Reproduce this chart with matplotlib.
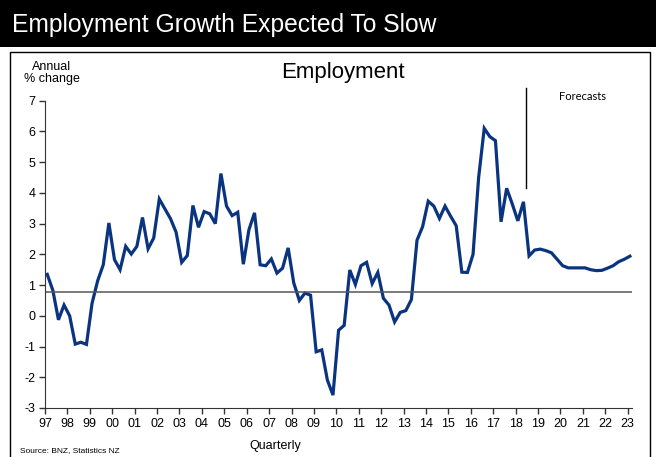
import matplotlib.pyplot as plt
import numpy as np
from matplotlib.patches import Rectangle


# quarterly annual % change, 1997 Q1 to 2023 Q1 (forecasts from 2018 Q3)
start_year = 1997.1
employment = [
    1.35, 0.83, -0.13, 0.35, 0.0, -0.92, -0.86, -0.93, 0.41, 1.14,
    1.66, 3.02, 1.83, 1.5, 2.26, 2.01, 2.26, 3.2, 2.18, 2.53,
    3.8, 3.48, 3.16, 2.72, 1.74, 1.96, 3.59, 2.88, 3.39, 3.32,
    3.0, 4.63, 3.57, 3.26, 3.37, 1.68, 2.8, 3.35, 1.66, 1.63,
    1.85, 1.39, 1.55, 2.21, 1.07, 0.5, 0.74, 0.67, -1.17, -1.11,
    -2.09, -2.58, -0.47, -0.31, 1.49, 1.02, 1.63, 1.74, 1.05, 1.41,
    0.57, 0.35, -0.2, 0.11, 0.17, 0.53, 2.46, 2.9, 3.73, 3.57,
    3.17, 3.57, 3.24, 2.93, 1.42, 1.41, 2.0, 4.5, 6.1, 5.83,
    5.7, 3.06, 4.15, 3.64, 3.09, 3.71, 1.95, 2.14, 2.17, 2.12,
    2.05, 1.84, 1.63, 1.56, 1.56, 1.56, 1.56, 1.5, 1.47, 1.48,
    1.55, 1.63, 1.76, 1.84, 1.94,
]
average_line = 0.78
forecast_start = 2018.47
forecast_line_bottom = 4.15
tick_years = list(range(1997, 2024))
tick_labels = [str(y)[2:] for y in tick_years]

plt.rcParams['font.family'] = ['Liberation Sans', 'DejaVu Sans']
plt.rcParams['axes.unicode_minus'] = False

x = start_year + 0.25 * np.arange(len(employment))

fig = plt.figure(figsize=(6.56, 4.57), dpi=100)

# black title band and panel frame
fig.patches.append(Rectangle((0, 1 - 47 / 457), 1, 47 / 457, transform=fig.transFigure,
                             facecolor='black', edgecolor='none', zorder=0))
fig.patches.append(Rectangle((10 / 656, -0.02), 640 / 656, 1 - 52 / 457 + 0.02,
                             transform=fig.transFigure, facecolor='none',
                             edgecolor='black', lw=1.0, zorder=0))
fig.text(12 / 656, 1 - 25 / 457, 'Employment Growth Expected To Slow', color='white',
         fontsize=17.7, va='center', ha='left')

ax = fig.add_axes([45 / 656, 1 - 408 / 457, 586.7 / 656, 307.3 / 457])
ax.plot(x, employment, color='#0a3480', lw=2.3, solid_joinstyle='miter')
ax.axhline(average_line, color='#555555', lw=1.1)
ax.plot([forecast_start, forecast_start], [forecast_line_bottom, 7.42], color='black',
        lw=1.0, clip_on=False)

ax.set_xlim(1997, 2023.18)
ax.set_ylim(-3, 7)
ax.set_xticks(tick_years)
ax.set_xticklabels(tick_labels)
ax.set_yticks(range(-3, 8))
ax.tick_params(axis='both', direction='out', length=4, width=1, labelsize=9,
               colors='#333333', labelcolor='black', pad=3)
for side in ['top', 'right']:
    ax.spines[side].set_visible(False)
for side in ['left', 'bottom']:
    ax.spines[side].set_color('#333333')

fig.text(343 / 656, 1 - 72 / 457, 'Employment', fontsize=16, ha='center', va='center')
fig.text(52 / 656, 1 - 73 / 457, 'Annual\n% change', fontsize=9, ha='center', va='center',
         linespacing=1.1)
fig.text(582 / 656, 1 - 97 / 457, 'Forecasts', fontsize=8, ha='center', va='center',
         family=['Lato', 'DejaVu Sans'])
fig.text(275 / 656, 1 - 446 / 457, 'Quarterly', fontsize=9, ha='center', va='center')
fig.text(20 / 656, 1 - 451 / 457, 'Source: BNZ, Statistics NZ', fontsize=6, ha='left',
         va='center')

fig.savefig('out.png', dpi=100)
